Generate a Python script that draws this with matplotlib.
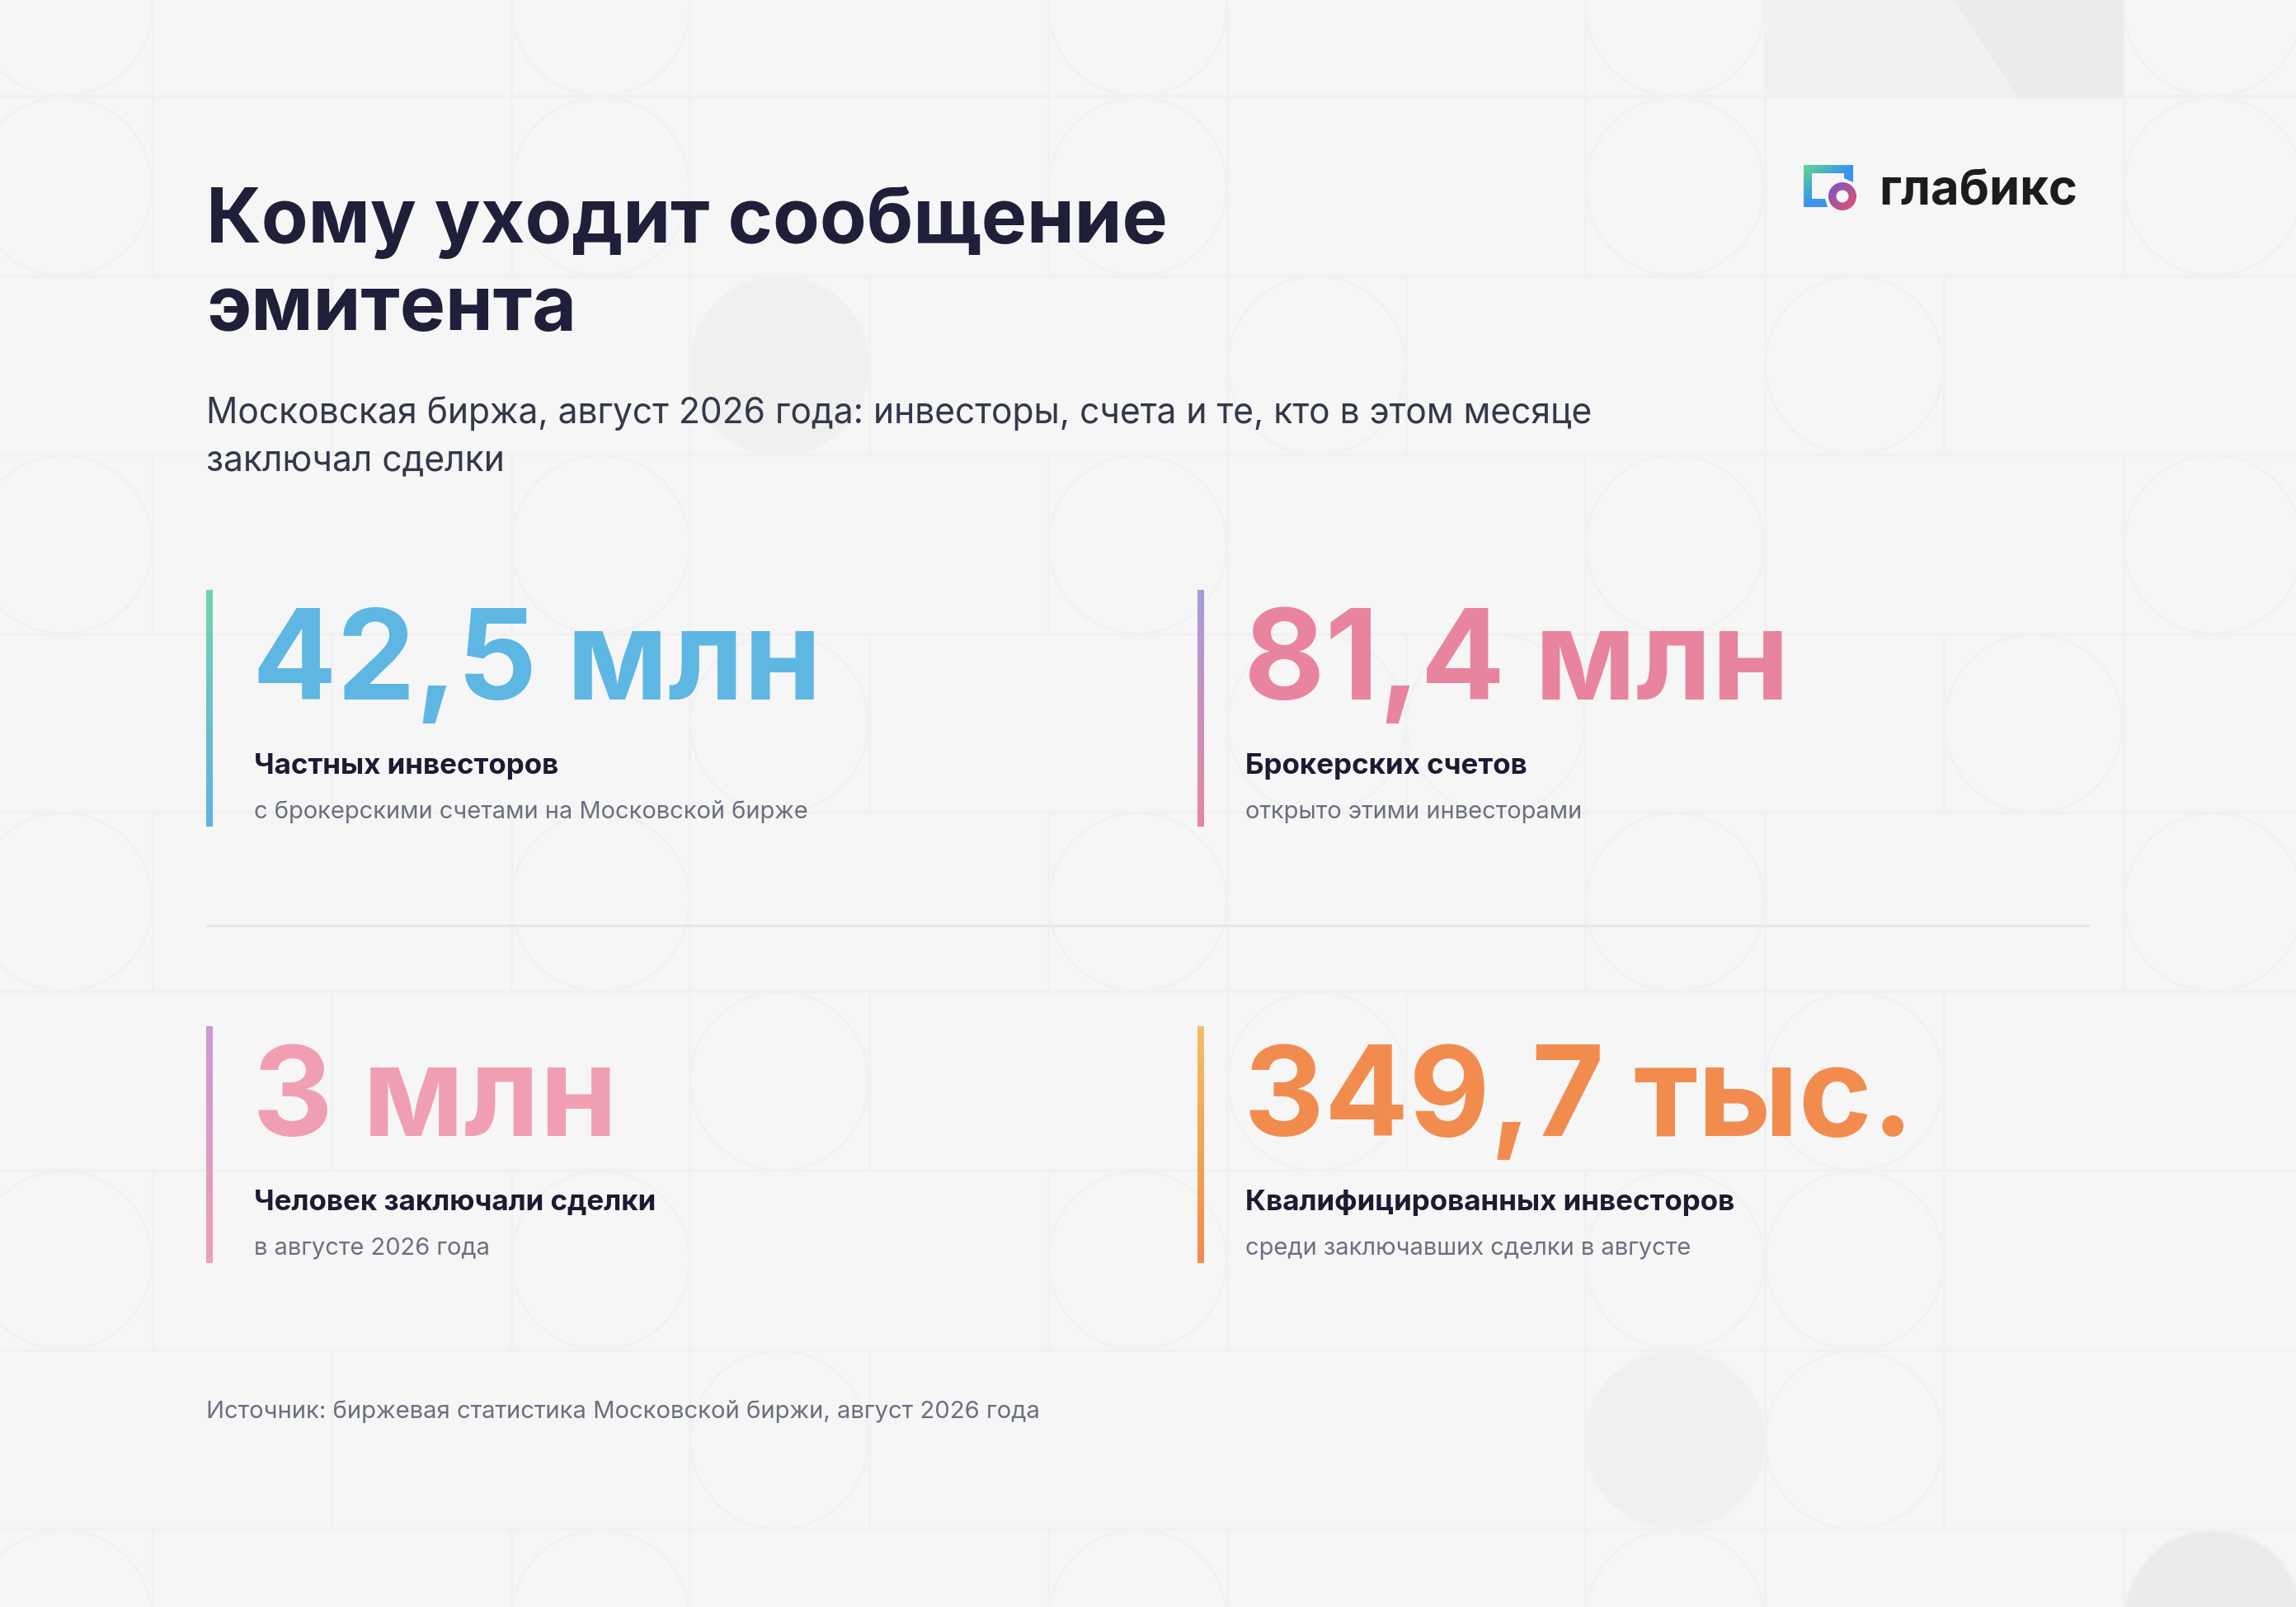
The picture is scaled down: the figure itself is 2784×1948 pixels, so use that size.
import numpy as np
import matplotlib
matplotlib.use("Agg")
import matplotlib.pyplot as plt
from matplotlib.patches import Circle, Rectangle, Polygon

plt.rcParams["font.family"] = ["Inter", "DejaVu Sans"]

W, H = 2784, 1948

# text of the four cards
values = ["42,5 млн", "81,4 млн", "3 млн", "349,7 тыс."]
labels = ["Частных инвесторов", "Брокерских счетов", "Человек заключали сделки", "Квалифицированных инвесторов"]
notes = ["с брокерскими счетами на Московской бирже", "открыто этими инвесторами", "в августе 2026 года", "среди заключавших сделки в августе"]
value_colors = ["#5eb6e3", "#e9849e", "#f09fb3", "#f28c4e"]
bar_top = ["#6fd6b0", "#a99bdc", "#cc98d8", "#f5bd62"]
bar_bottom = ["#5cb4e6", "#e9849e", "#f09fb3", "#f28c4e"]

title_lines = ["Кому уходит сообщение", "эмитента"]
subtitle_lines = ["Московская биржа, август 2026 года: инвесторы, счета и те, кто в этом месяце", "заключал сделки"]
source = "Источник: биржевая статистика Московской биржи, август 2026 года"
brand = "глабикс"

# background tile grid
col_x = [-32, 185, 402, 620, 836, 1054, 1271, 1488, 1705, 1922, 2140, 2357, 2575, 2792]
row_y = [-100, 117, 335, 551, 769, 985, 1202, 1419, 1637, 1854, 2071]
row_circles = [[0, 3, 6, 9, 12], [0, 3, 6, 9, 12], [4, 7, 10], [0, 3, 6, 9, 12], [4, 7, 8, 11],
               [0, 3, 6, 9, 12], [4, 7, 10], [0, 3, 6, 9, 10], [4, 9, 10], [0, 3, 6, 9, 12]]
row_edges = [[1, 3, 4, 6, 7, 9, 10, 12], [1, 3, 4, 6, 7, 9, 10, 12], [2, 4, 5, 7, 8, 10, 11],
             [1, 3, 4, 6, 7, 9, 10, 12], [2, 4, 5, 7, 8, 9, 11, 12], [1, 3, 4, 6, 7, 9, 10, 12],
             [2, 4, 5, 7, 8, 10, 11], [1, 3, 4, 6, 7, 9, 10, 11], [2, 4, 5, 9, 10, 11], [1, 3, 4, 6, 7, 9, 10, 12]]
filled = {(2, 4): "#f0f0f0", (8, 9): "#f0f0f0", (9, 12): "#ebebeb"}

BG = "#f6f6f6"
LINE = "#f1f1f1"


def px(size):
    return size * 72 / 100


fig = plt.figure(figsize=(W / 100, H / 100), dpi=100, facecolor=BG)
ax = fig.add_axes([0, 0, 1, 1])
ax.set_xlim(0, W)
ax.set_ylim(H, 0)
ax.axis("off")

# background pattern
for y in row_y[1:-1]:
    ax.plot([0, W], [y, y], color=LINE, lw=px(4), zorder=1, solid_capstyle="butt")
for r, edges in enumerate(row_edges):
    for c in edges:
        ax.plot([col_x[c], col_x[c]], [row_y[r], row_y[r + 1]], color=LINE, lw=px(3), zorder=1, solid_capstyle="butt")
for r, cols in enumerate(row_circles):
    for c in cols:
        cx = (col_x[c] + col_x[c + 1]) / 2
        cy = (row_y[r] + row_y[r + 1]) / 2
        fc = filled.get((r, c), "none")
        ax.add_patch(Circle((cx, cy), 108, facecolor=fc, edgecolor=LINE, lw=px(3), zorder=2))

# shaded tile behind the logo
ax.add_patch(Rectangle((col_x[10], 0), col_x[12] - col_x[10], row_y[1] + 2, facecolor="#f1f1f1", edgecolor="none", zorder=2))
ax.add_patch(Polygon([(2370, 0), (col_x[12], 0), (col_x[12], row_y[1] + 2), (2447, row_y[1] + 2)], facecolor="#ebebeb", edgecolor="none", zorder=2))


def gradient(c1, c2, extent, clip=None, diag=0):
    a = np.array(matplotlib.colors.to_rgb(c1))
    b = np.array(matplotlib.colors.to_rgb(c2))
    n = 64
    if diag:
        xx, yy = np.meshgrid(np.linspace(0, 1, n), np.linspace(0, 1, n))
        t = np.clip((xx + yy) * diag, 0, 1)
    else:
        t = np.tile(np.linspace(0, 1, n)[:, None], (1, n))
    img = a[None, None, :] * (1 - t[..., None]) + b[None, None, :] * t[..., None]
    im = ax.imshow(img, extent=extent, aspect="auto", origin="upper", zorder=5, interpolation="bilinear")
    if clip is not None:
        clip.set_transform(ax.transData)
        im.set_clip_path(clip)
    return im


def fit_text(x, y, s, width, **kw):
    # scale font size so the text is as wide as in the reference
    t = ax.text(x, y, s, fontsize=40, va="baseline", ha="left", zorder=6, **kw)
    r = fig.canvas.get_renderer()
    t.set_fontsize(40 * width / t.get_window_extent(r).width)
    return t


# header
t1 = fit_text(250, 294, title_lines[0], 1168, color="#1f1f3a", fontweight="bold")
ax.text(250, 400, title_lines[1], fontsize=t1.get_fontsize(), color="#1f1f3a", fontweight="bold", va="baseline", zorder=6)
s1 = fit_text(250, 513, subtitle_lines[0], 1682, color="#33384a")
ax.text(250, 570, subtitle_lines[1], fontsize=s1.get_fontsize(), color="#33384a", va="baseline", zorder=6)

# cards
card_x = [250, 1452, 250, 1452]
card_y = [716, 716, 1245, 1245]
big = None
for i in range(4):
    x, y = card_x[i], card_y[i]
    gradient(bar_top[i], bar_bottom[i], [x, x + 8, y + 286, y - 1])
    if big is None:
        t = fit_text(x + 56, y + 132, values[i], 690, color=value_colors[i], fontweight="bold")
        big = t.get_fontsize()
        t2 = fit_text(x + 58, y + 222, labels[i], 370, color="#1b1b33", fontweight="bold")
        lab = t2.get_fontsize()
        t3 = fit_text(x + 58, y + 276, notes[i], 672, color="#6b7080")
        note = t3.get_fontsize()
    else:
        ax.text(x + 56, y + 132, values[i], fontsize=big, color=value_colors[i], fontweight="bold", va="baseline", zorder=6)
        ax.text(x + 58, y + 222, labels[i], fontsize=lab, color="#1b1b33", fontweight="bold", va="baseline", zorder=6)
        ax.text(x + 58, y + 276, notes[i], fontsize=note, color="#6b7080", va="baseline", zorder=6)

# divider and source
ax.plot([250, 2534], [1122, 1122], color="#e4e7e7", lw=px(3), zorder=4, solid_capstyle="butt")
fit_text(250, 1719, source, 1011, color="#6b7080")

# logo
frame = Polygon([(2187, 200), (2247, 200), (2247, 221), (2236, 216), (2236, 210), (2197, 210),
                 (2197, 241), (2213, 241), (2216, 251), (2187, 251)], facecolor="none", edgecolor="none")
ax.add_patch(frame)
gradient("#5fd88a", "#3a94f0", [2187, 2247, 251, 200], clip=frame, diag=1.0)
ring = Circle((2234, 238), 17, facecolor="none", edgecolor="none")
ax.add_patch(ring)
gradient("#7455c8", "#e8506a", [2217, 2251, 255, 221], clip=ring, diag=0.5)
ax.add_patch(Circle((2234, 238), 7.5, facecolor=BG, edgecolor="none", zorder=7))
fit_text(2278, 247, brand, 241, color="#1c1c1c", fontweight="bold")

ax.set_xlim(0, W)
ax.set_ylim(H, 0)
fig.savefig("out.png", dpi=100, facecolor=BG)
